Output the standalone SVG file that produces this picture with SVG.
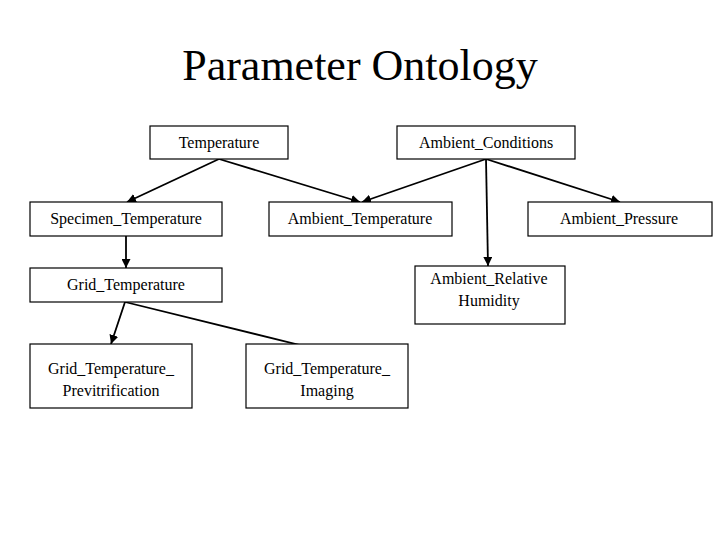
<svg xmlns="http://www.w3.org/2000/svg" width="720" height="540" viewBox="0 0 720 540">
<style>
rect{fill:#fff;stroke:#000;stroke-width:1.2}
text{font-family:"Liberation Serif",serif;font-size:16px;text-anchor:middle}
.c line{stroke:#000;stroke-width:1.8;marker-end:url(#a)}
</style>
<defs><marker id="a" viewBox="0 0 10 10" refX="10" refY="5" markerWidth="5" markerHeight="5" orient="auto"><path d="M0,0L10,5L0,10z"/></marker></defs>
<rect width="720" height="540" style="stroke:none"/>
<text x="360" y="80" style="font-size:44px">Parameter Ontology</text>
<g class="c">
<line x1="219" y1="159" x2="127" y2="202"/>
<line x1="219" y1="159" x2="360" y2="202"/>
<line x1="486" y1="159" x2="362" y2="202"/>
<line x1="486" y1="159" x2="488" y2="266"/>
<line x1="486" y1="159" x2="620" y2="202"/>
<line x1="126" y1="236" x2="126" y2="268"/>
<line x1="125" y1="302" x2="111" y2="344"/>
<line x1="125" y1="302" x2="328" y2="352"/>
</g>
<g id="temperature"><rect x="150" y="126" width="138" height="33"/><text x="219" y="148">Temperature</text></g>
<g id="ambient_conditions"><rect x="397" y="126" width="178" height="33"/><text x="486" y="148">Ambient_Conditions</text></g>
<g id="specimen_temperature"><rect x="30" y="202" width="192" height="34"/><text x="126" y="224">Specimen_Temperature</text></g>
<g id="ambient_temperature"><rect x="269" y="202" width="183" height="34"/><text x="360" y="224">Ambient_Temperature</text></g>
<g id="ambient_pressure"><rect x="528" y="202" width="184" height="34"/><text x="619" y="224">Ambient_Pressure</text></g>
<g id="grid_temperature"><rect x="30" y="268" width="192" height="34"/><text x="126" y="290">Grid_Temperature</text></g>
<g id="ambient_relative_humidity"><rect x="415" y="266" width="150" height="58"/><text x="489" y="284">Ambient_Relative</text><text x="489" y="306">Humidity</text></g>
<g id="grid_temperature_previtrification"><rect x="30" y="344" width="162" height="64"/><text x="111" y="374">Grid_Temperature_</text><text x="111" y="396">Previtrification</text></g>
<g id="grid_temperature_imaging"><rect x="246" y="344" width="162" height="64"/><text x="327" y="374">Grid_Temperature_</text><text x="327" y="396">Imaging</text></g>
</svg>
